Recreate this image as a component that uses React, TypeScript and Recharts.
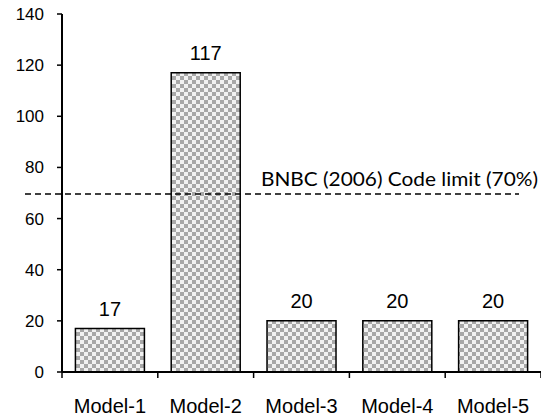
import React from "react";
import { BarChart, Bar, XAxis, YAxis, ReferenceLine, LabelList } from "recharts";

const models = ["Model-1", "Model-2", "Model-3", "Model-4", "Model-5"];
const values = [17, 117, 20, 20, 20];
const yTicks = [0, 20, 40, 60, 80, 100, 120, 140];
const codeLimit = 70;
const codeLimitLabel = "BNBC (2006) Code limit (70%)";

const data = models.map((m, i) => ({ name: m, value: values[i] }));

const XTick = (props: any) => {
  const { x, y, payload, index } = props;
  const off = payload.offset ?? 0;
  const last = index === models.length - 1;
  return (
    <g>
      <line x1={x - off} x2={x - off} y1={y} y2={y + 6} stroke="#000" strokeWidth={1.5} />
      {last && <line x1={x + off} x2={x + off} y1={y} y2={y + 6} stroke="#000" strokeWidth={1.5} />}
      <text x={x} y={y + 41} textAnchor="middle" fontSize={20} fontFamily="'Liberation Sans', Arial, sans-serif" fill="#000">
        {payload.value}
      </text>
    </g>
  );
};

const LimitLine = (props: any) => {
  const { x1, y1, x2, y2 } = props;
  return (
    <g>
      <line x1={x1 - 37} y1={y1 + 1} x2={x2 - 22} y2={y2 + 1} stroke="#000" strokeWidth={1.5} strokeDasharray="6 4" />
      <text x={x2 - 280} y={y1 - 7} textLength={277} lengthAdjust="spacingAndGlyphs" fontSize={20} fontFamily="Lato, 'Open Sans', sans-serif" fill="#000">
        {codeLimitLabel}
      </text>
    </g>
  );
};

export default function App() {
  return (
    <div style={{ position: "absolute", left: 0, top: 0, width: 541, height: 416, background: "#fff" }}>
      <BarChart width={541} height={416} data={data} margin={{ top: 14, right: 0, bottom: 0, left: 0 }} barCategoryGap="14%">
        <defs>
          <pattern id="chk" width="8" height="8" patternUnits="userSpaceOnUse">
            <rect x="0" y="0" width="8" height="8" fill="#f2f2f2" />
            <rect x="0" y="0" width="4" height="4" fill="#a8a8a8" />
            <rect x="4" y="4" width="4" height="4" fill="#a8a8a8" />
          </pattern>
        </defs>
        <XAxis
          dataKey="name"
          height={44}
          tickLine={false}
          tickSize={0}
          tickMargin={0}
          axisLine={{ stroke: "#000", strokeWidth: 2 }}
          tick={<XTick />}
          interval={0}
        />
        <YAxis
          width={62}
          domain={[0, 140]}
          ticks={yTicks}
          tickSize={5}
          tickMargin={13}
          axisLine={{ stroke: "#000", strokeWidth: 2 }}
          tickLine={{ stroke: "#000", strokeWidth: 1.5 }}
          tick={{ fontSize: 17, fill: "#000", fontFamily: "'Liberation Sans', Arial, sans-serif" }}
          interval={0}
        />
        <Bar dataKey="value" fill="url(#chk)" stroke="#000" strokeWidth={1.5} isAnimationActive={false}>
          <LabelList dataKey="value" position="top" offset={13} fontSize={20} fill="#000" fontFamily="'Liberation Sans', Arial, sans-serif" />
        </Bar>
        <ReferenceLine y={codeLimit} shape={<LimitLine />} />
      </BarChart>
    </div>
  );
}
